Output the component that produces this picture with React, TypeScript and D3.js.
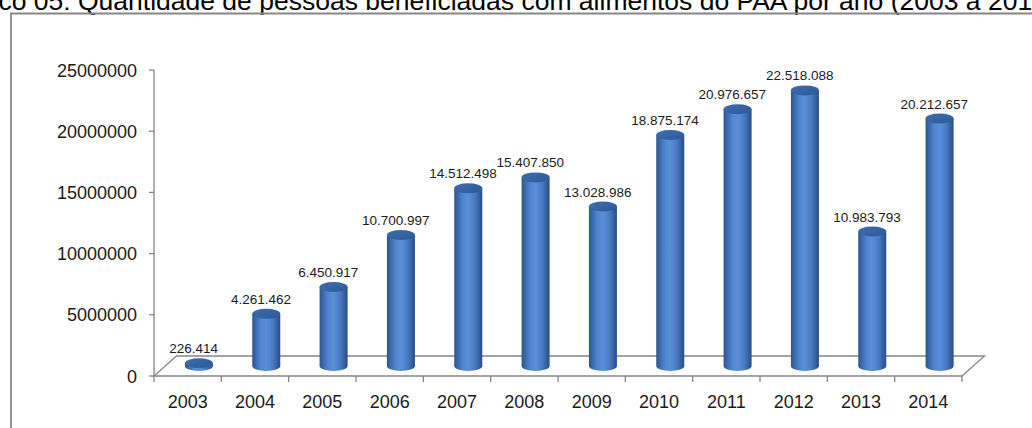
import React from "react";
import * as d3 from "d3";

const years = ["2003","2004","2005","2006","2007","2008","2009","2010","2011","2012","2013","2014"];
const values = [226414, 4261462, 6450917, 10700997, 14512498, 15407850, 13028986, 18875174, 20976657, 22518088, 10983793, 20212657];
const valueLabels = ["226.414","4.261.462","6.450.917","10.700.997","14.512.498","15.407.850","13.028.986","18.875.174","20.976.657","22.518.088","10.983.793","20.212.657"];
const yTicks = [0, 5000000, 10000000, 15000000, 20000000, 25000000];
const title = "Gráfico 05: Quantidade de pessoas beneficiadas com alimentos do PAA por ano (2003 a 2014)";

export default function App() {
  const W = 1032, H = 428;
  const x0 = 154, x1 = 962;
  const depthX = 22.5, depthY = -20;
  const x = d3.scaleBand<string>().domain(years).range([x0, x1]).padding(0);
  const y = d3.scaleLinear().domain([0, 25000000]).range([376, 70]);
  const bw = x.bandwidth();
  const rx = 14, ry = 5;
  const offX = depthX / 2, offY = depthY / 2;
  const axisColor = "#868686";
  const font = "'Liberation Sans', Arial, sans-serif";

  return (
    <svg width={W} height={H} style={{ position: "absolute", left: 0, top: 0 }}>
      <defs>
        <linearGradient id="body" x1="0" x2="1" y1="0" y2="0">
          <stop offset="0%" stopColor="#2c5591" />
          <stop offset="30%" stopColor="#4f84cf" />
          <stop offset="50%" stopColor="#5a8fd8" />
          <stop offset="75%" stopColor="#4679c0" />
          <stop offset="100%" stopColor="#284c84" />
        </linearGradient>
        <linearGradient id="top" x1="0" x2="1" y1="0" y2="1">
          <stop offset="0%" stopColor="#3e6eb2" />
          <stop offset="100%" stopColor="#2d5895" />
        </linearGradient>
      </defs>
      <rect x={0} y={0} width={W} height={H} fill="#fff" />
      <text x={-59} y={9.5} fontFamily={font} fontSize={26.5} fill="#000">{title}</text>
      <path d={`M11,${H + 5} L11,13.5 L${W + 5},13.5`} fill="none" stroke={axisColor} strokeWidth={1.8} />

      {/* floor */}
      <path
        d={`M${x0},${y(0)} L${x1},${y(0)} L${x1 + depthX},${y(0) + depthY} L${x0 + depthX},${y(0) + depthY} Z`}
        fill="#fff" stroke={axisColor} strokeWidth={1.3}
      />
      {/* y axis */}
      <line x1={x0} x2={x0} y1={y(25000000)} y2={y(0)} stroke={axisColor} strokeWidth={1.3} />
      {yTicks.map((t) => (
        <g key={t}>
          <line x1={x0 - 5} x2={x0} y1={y(t)} y2={y(t)} stroke={axisColor} strokeWidth={1.3} />
          <text x={137} y={y(t) + 6.5} textAnchor="end" fontFamily={font} fontSize={18} fill="#1a1a1a">{t}</text>
        </g>
      ))}
      {/* x ticks */}
      {[...years.map((yr) => x(yr)!), x1].map((px, i) => (
        <line key={i} x1={px} x2={px} y1={y(0)} y2={y(0) + 6} stroke={axisColor} strokeWidth={1.3} />
      ))}
      {years.map((yr) => (
        <text key={yr} x={x(yr)! + bw / 2} y={408} textAnchor="middle" fontFamily={font} fontSize={18} fill="#1a1a1a">{yr}</text>
      ))}

      {/* bars */}
      {years.map((yr, i) => {
        const cx = x(yr)! + bw / 2 + offX;
        const base = y(0) + offY;
        const top = y(values[i]) + offY;
        const body = `M${cx - rx},${top} L${cx - rx},${base} A${rx},${ry} 0 0 0 ${cx + rx},${base} L${cx + rx},${top} Z`;
        return (
          <g key={yr}>
            <path d={body} fill="url(#body)" />
            <ellipse cx={cx} cy={top} rx={rx} ry={ry} fill="url(#top)" />
            <text x={x(yr)! + bw / 2 + 6} y={top - 10} textAnchor="middle" fontFamily={font} fontSize={13.5} fill="#1a1a1a">{valueLabels[i]}</text>
          </g>
        );
      })}
    </svg>
  );
}
